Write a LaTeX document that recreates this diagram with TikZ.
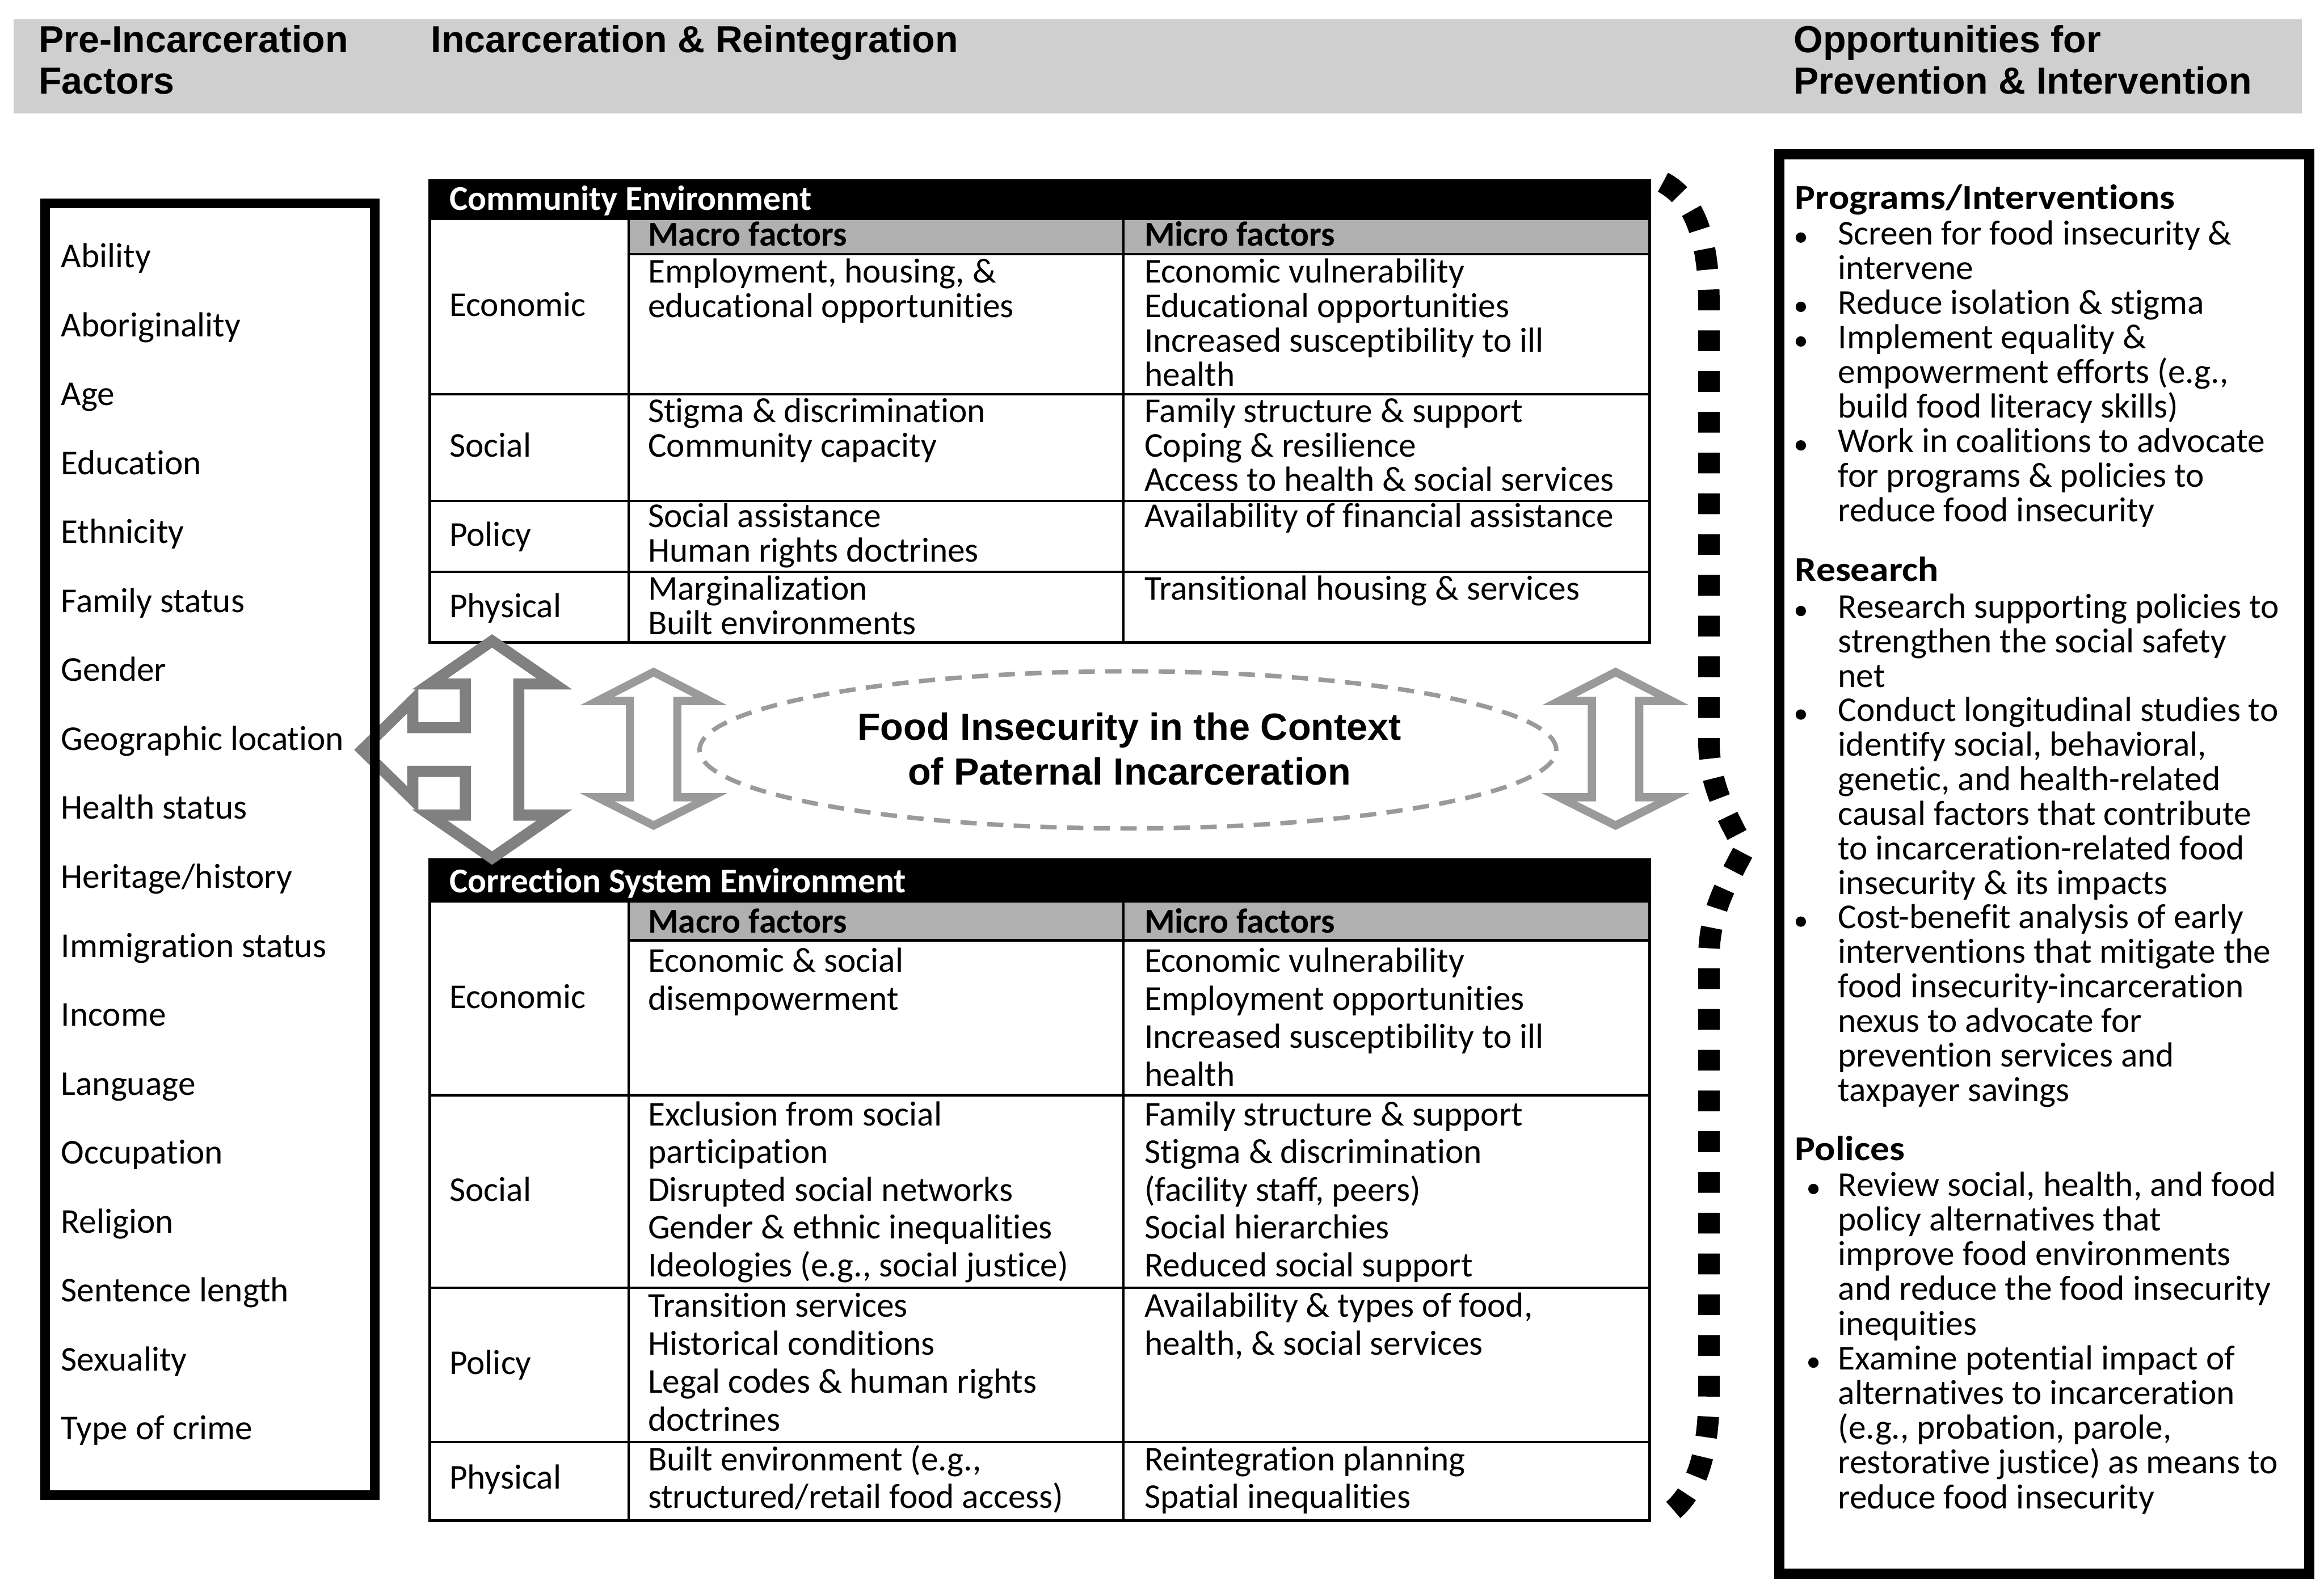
\documentclass[tikz,border=0pt]{standalone}
\usepackage{fontspec}
\setmainfont{Carlito}[Ligatures={NoCommon}]
\newfontfamily\arialf{Liberation Sans}
\newfontfamily\hdfont{Carlito}[FakeStretch=1.1,Ligatures={NoCommon}]
\usetikzlibrary{shapes.geometric}
\definecolor{band}{HTML}{CFCFCF}
\definecolor{subgray}{HTML}{B0B0B0}
\definecolor{bigarrow}{HTML}{808080}
\definecolor{midarrow}{HTML}{9A9A9A}
\newcommand\tsz{\fontsize{23.5}{23.5}\selectfont}
\newcommand\hsz{\fontsize{25.4}{28}\selectfont}
\newcommand\txtlines[5]{%
  \foreach \tline [count=\k from 0] in {#5}{%
    \node[tx] (#1-\k) at (#2,{#3+\k*#4}) {\tline};}}
\begin{document}
\begin{tikzpicture}[x=1pt,y=-1pt,
  tx/.style={font=\tsz, inner sep=0pt, anchor=base west},
  txb/.style={tx, font=\tsz\bfseries},
  txw/.style={tx, font=\tsz\bfseries, text=white},
  hdr/.style={inner sep=0pt, anchor=base west, font=\arialf\hsz\bfseries},
  rhd/.style={inner sep=0pt, anchor=base west, font=\hdfont\tsz\bfseries},
  tline/.style={line width=1.6pt, black},
  touter/.style={line width=2pt, black},
  bul/.style={circle, fill=black, inner sep=0pt, minimum size=7pt},
  bigarr/.style={draw=bigarrow, line width=7.5pt, line join=miter},
  midarr/.style={draw=midarrow, line width=5.5pt, line join=miter},
  loopdash/.style={line width=14.5pt, dash pattern=on 14pt off 13.5pt}
]
\useasboundingbox (0,0) rectangle (1568,1072);
\fill[white] (0,0) rectangle (1568,1072);

% ---------- header band ----------
\fill[band] (9.2,13.1) rectangle (1553,76.5);
\node[hdr] (h1a) at (25.9,35.5) {Pre-Incarceration};
\node[hdr] (h1b) at (25.9,63.4) {Factors};
\node[hdr] (h2) at (290.6,35.5) {Incarceration \& Reintegration};
\node[hdr] (h3a) at (1210,35.5) {Opportunities for};
\node[hdr] (h3b) at (1210,63.4) {Prevention \& Intervention};

% ---------- community table ----------
\fill[black] (290,122) rectangle (1113,148.5);
\fill[subgray] (424,148.5) rectangle (1113,171.5);
\draw[tline] (424,171.5) -- (1113,171.5);
\draw[tline] (290,266) -- (1113,266) (290,338) -- (1113,338) (290,386) -- (1113,386);
\draw[tline] (424,148.5) -- (424,433.5) (758,148.5) -- (758,433.5);
\draw[touter] (290,122) rectangle (1113,433.5);
\node[txw] (ceT) at (303,142) {Community Environment};
\node[txb] (ceMa) at (437,166) {Macro factors};
\node[txb] (ceMi) at (772,166) {Micro factors};
\node[tx] (ceL1) at (303,213.5) {Economic};
\node[tx] (ceL2) at (303,308.5) {Social};
\node[tx] (ceL3) at (303,368.5) {Policy};
\node[tx] (ceL4) at (303,416.5) {Physical};
\txtlines{ce1a}{437}{191}{23.2}{{Employment, housing, \&},{educational opportunities}}
\txtlines{ce1b}{772}{191}{23.2}{{Economic vulnerability},{Educational opportunities},{Increased susceptibility to ill},{health}}
\txtlines{ce2a}{437}{285}{23.2}{{Stigma \& discrimination},{Community capacity}}
\txtlines{ce2b}{772}{285}{23.2}{{Family structure \& support},{Coping \& resilience},{Access to health \& social services}}
\txtlines{ce3a}{437}{356}{23.2}{{Social assistance},{Human rights doctrines}}
\txtlines{ce3b}{772}{356}{23.2}{{Availability of financial assistance}}
\txtlines{ce4a}{437}{405}{23.2}{{Marginalization},{Built environments}}
\txtlines{ce4b}{772}{405}{23.2}{{Transitional housing \& services}}

% ---------- correction table ----------
\fill[black] (290,580) rectangle (1113,609);
\fill[subgray] (424,609) rectangle (1113,634.5);
\draw[tline] (424,634.5) -- (1113,634.5);
\draw[tline] (290,739) -- (1113,739) (290,869) -- (1113,869) (290,973) -- (1113,973);
\draw[tline] (424,609) -- (424,1026) (758,609) -- (758,1026);
\draw[touter] (290,580) rectangle (1113,1026);
\node[txw] (csT) at (303,602.5) {Correction System Environment};
\node[txb] (csMa) at (437,629.5) {Macro factors};
\node[txb] (csMi) at (772,629.5) {Micro factors};
\node[tx] (csL1) at (303,680.5) {Economic};
\node[tx] (csL2) at (303,810.5) {Social};
\node[tx] (csL3) at (303,927.5) {Policy};
\node[tx] (csL4) at (303,1004.5) {Physical};
\txtlines{cs1a}{437}{656}{25.6}{{Economic \& social},{disempowerment}}
\txtlines{cs1b}{772}{656}{25.6}{{Economic vulnerability},{Employment opportunities},{Increased susceptibility to ill},{health}}
\txtlines{cs2a}{437}{759.5}{25.5}{{Exclusion from social},{participation},{Disrupted social networks},{Gender \& ethnic inequalities},{Ideologies (e.g., social justice)}}
\txtlines{cs2b}{772}{759.5}{25.5}{{Family structure \& support},{Stigma \& discrimination},{(facility staff, peers)},{Social hierarchies},{Reduced social support}}
\txtlines{cs3a}{437}{888.5}{25.7}{{Transition services},{Historical conditions},{Legal codes \& human rights},{doctrines}}
\txtlines{cs3b}{772}{888.5}{25.7}{{Availability \& types of food,},{health, \& social services}}
\txtlines{cs4a}{437}{992.5}{25}{{Built environment (e.g.,},{structured/retail food access)}}
\txtlines{cs4b}{772}{992.5}{25}{{Reintegration planning},{Spatial inequalities}}

% ---------- block arrows ----------
\draw[bigarr] (332,432.5) -- (374,461.5) -- (350,461.5) -- (350,550) -- (374,550)
  -- (332,579) -- (290,550) -- (314,550) -- (314,520.5) -- (278.5,520.5)
  -- (278.5,539.5) -- (244.3,506) -- (278.5,472.5) -- (278.5,491) -- (314,491)
  -- (314,461.5) -- (290,461.5) -- cycle;
\draw[midarr] (441,453.5) -- (479,473) -- (457,473) -- (457,538) -- (479,538)
  -- (441,557) -- (403,538) -- (425,538) -- (425,473) -- (403,473) -- cycle;
\draw[midarr] (1090,453.5) -- (1128,473) -- (1106,473) -- (1106,538) -- (1128,538)
  -- (1090,557) -- (1052,538) -- (1074,538) -- (1074,473) -- (1052,473) -- cycle;

% ---------- pre-incarceration box ----------
\node[draw, line width=6.5pt, inner sep=0pt, minimum width=222.4pt, minimum height=871.5pt, anchor=north west] (prebox) at (27.3,134) {};
\txtlines{pf}{41}{180.5}{46.53}{{Ability},{Aboriginality},{Age},{Education},{Ethnicity},{Family status},{Gender},{Geographic location},{Health status},{Heritage/history},{Immigration status},{Income},{Language},{Occupation},{Religion},{Sentence length},{Sexuality},{Type of crime}}

% ---------- central ellipse ----------
\node[ellipse, draw=midarrow, line width=3pt, dash pattern=on 11pt off 7pt, minimum width=578pt, minimum height=106pt, inner sep=0pt] (focus) at (761,506) {};
\node[inner sep=0pt, anchor=base, font=\arialf\fontsize{25.5}{30}\selectfont\bfseries] (ft1) at (762,499.5) {Food Insecurity in the Context};
\node[inner sep=0pt, anchor=base, font=\arialf\fontsize{25.5}{30}\selectfont\bfseries] (ft2) at (762,529.5) {of Paternal Incarceration};

% ---------- opportunities box ----------
\node[draw, line width=7pt, inner sep=0pt, minimum width=357.5pt, minimum height=958pt, anchor=north west] (oppbox) at (1197,100.5) {};
\node[rhd] (rh1) at (1211,141) {Programs/Interventions};
\txtlines{pg}{1240}{165}{23.375}{{Screen for food insecurity \&},{intervene},{Reduce isolation \& stigma},{Implement equality \&},{empowerment efforts (e.g.,},{build food literacy skills)},{Work in coalitions to advocate},{for programs \& policies to},{reduce food insecurity}}
\foreach \b in {0,2,3,6} {\node[bul] (pgb\b) at (1215,{165+\b*23.375-4.7}) {};}
\node[rhd] (rh2) at (1211,392) {Research};
\txtlines{rs}{1240}{417}{23.29}{{Research supporting policies to},{strengthen the social safety},{net},{Conduct longitudinal studies to},{identify social, behavioral,},{genetic, and health-related},{causal factors that contribute},{to incarceration-related food},{insecurity \& its impacts},{Cost-benefit analysis of early},{interventions that mitigate the},{food insecurity-incarceration},{nexus to advocate for},{prevention services and},{taxpayer savings}}
\foreach \b in {0,3,9} {\node[bul] (rsb\b) at (1215,{417+\b*23.29-4.7}) {};}
\node[rhd] (rh3) at (1211,783) {Polices};
\txtlines{pl}{1240}{807}{23.44}{{Review social, health, and food},{policy alternatives that},{improve food environments},{and reduce the food insecurity},{inequities},{Examine potential impact of},{alternatives to incarceration},{(e.g., probation, parole,},{restorative justice) as means to},{reduce food insecurity}}
\foreach \b in {0,5} {\node[bul] (plb\b) at (1223.5,{807+\b*23.44-4.7}) {};}

% ---------- dashed feedback loop ----------
\coordinate (loopS) at (1122,123);
\coordinate (loopA) at (1153,205);
\coordinate (loopB) at (1153,500);
\coordinate (loopK) at (1177,573);
\coordinate (loopC) at (1153,646);
\coordinate (loopD) at (1153,940);
\coordinate (loopE) at (1122,1024);
\draw[loopdash] (loopS) .. controls (1145,135) and (1153,165) .. (loopA) -- (loopB)
  .. controls (1153,530) and (1165,550) .. (loopK)
  .. controls (1165,596) and (1153,616) .. (loopC) -- (loopD)
  .. controls (1153,980) and (1145,1010) .. (loopE);
\end{tikzpicture}
\end{document}
